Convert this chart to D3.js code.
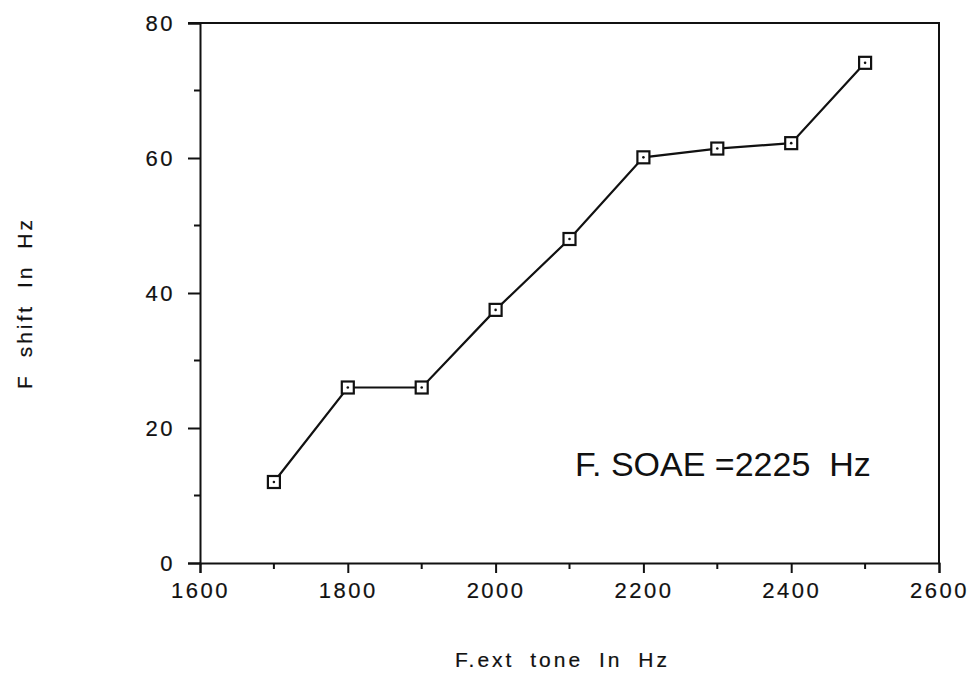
<!DOCTYPE html>
<html>
<head>
<meta charset="utf-8">
<script src="https://cdn.jsdelivr.net/npm/d3@7"></script>
<style>
  body { margin: 0; background: #fff; }
  svg text { font-family: "Liberation Sans", Arial, sans-serif; fill: #111; stroke: #111; stroke-width: 0.2px; }
</style>
</head>
<body>
<svg id="chart" width="977" height="673"></svg>
<script>
// data
const toneFreq = [1700, 1800, 1900, 2000, 2100, 2200, 2300, 2400, 2500];
const shiftHz  = [12, 26, 26, 37.5, 48, 60.1, 61.4, 62.2, 74.1];
const xTicks = [1600, 1800, 2000, 2200, 2400, 2600];
const xMinor = [1700, 1900, 2100, 2300, 2500];
const yTicks = [0, 20, 40, 60, 80];
const yMinor = [10, 30, 50, 70];

const margin = {left: 200, top: 23, right: 38, bottom: 110};
const width = 977 - margin.left - margin.right;
const height = 673 - margin.top - margin.bottom;

const svg = d3.select("#chart");
const g = svg.append("g")
    .attr("transform", `translate(${margin.left}, ${margin.top})`);

const x = d3.scaleLinear().domain([1600, 2600]).range([0, width]);
const y = d3.scaleLinear().domain([0, 80]).range([height, 0]);

// frame: top and right border
g.append("path")
  .attr("d", `M${-12},0 H${width} V${height}`)
  .attr("fill", "none").attr("stroke", "#111").attr("stroke-width", 2);

// x axis
const xAxis = g.append("g")
  .attr("transform", `translate(0, ${height})`)
  .call(d3.axisBottom(x).tickValues(xTicks).tickSize(10).tickPadding(9)
    .tickFormat(d3.format("d")));
xAxis.append("g").selectAll("line")
  .data(xMinor).enter().append("line")
  .attr("x1", d => x(d)).attr("x2", d => x(d))
  .attr("y1", 0).attr("y2", 6)
  .attr("stroke", "#111").attr("stroke-width", 2);

// y axis
const yAxis = g.append("g")
  .call(d3.axisLeft(y).tickValues(yTicks).tickSize(12).tickPadding(13)
    .tickFormat(d3.format("d")));
yAxis.append("g").selectAll("line")
  .data(yMinor).enter().append("line")
  .attr("x1", 0).attr("x2", -6)
  .attr("y1", d => y(d)).attr("y2", d => y(d))
  .attr("stroke", "#111").attr("stroke-width", 2);

[xAxis, yAxis].forEach(a => {
  a.select(".domain").attr("stroke", "#111").attr("stroke-width", 2);
  a.selectAll(".tick line").attr("stroke", "#111").attr("stroke-width", 2);
  a.selectAll(".tick text")
    .attr("fill", "#111")
    .style("font-size", "22px")
    .style("letter-spacing", "2.5px")
    .style("font-family", "'Liberation Sans', Arial, sans-serif");
});
yAxis.selectAll(".tick text").attr("dy", "0.36em");

// the series
const pts = toneFreq.map((f, i) => ({f: f, s: shiftHz[i]}));
g.append("path")
  .datum(pts)
  .attr("fill", "none")
  .attr("stroke", "#111")
  .attr("stroke-width", 2.2)
  .attr("d", d3.line().x(d => x(d.f)).y(d => y(d.s)));

const mk = g.selectAll(".mark").data(pts).enter().append("g")
  .attr("class", "mark")
  .attr("transform", d => `translate(${x(d.f)}, ${y(d.s)})`);
mk.append("rect")
  .attr("x", -6).attr("y", -6).attr("width", 12).attr("height", 12)
  .attr("fill", "#fff").attr("stroke", "#111").attr("stroke-width", 2.2);
mk.append("circle").attr("r", 1.3).attr("fill", "#111");

// annotation
g.append("text")
  .attr("x", 375).attr("y", y(12.9))
  .style("font-size", "34px")
  .style("stroke-width", "0px")
  .attr("xml:space", "preserve")
  .text("F. SOAE =2225  Hz");

// axis titles
svg.append("text")
  .attr("x", margin.left + width / 2 - 7).attr("y", 667)
  .attr("text-anchor", "middle")
  .style("font-size", "21px")
  .style("letter-spacing", "3px")
  .style("word-spacing", "7px")
  .text("F.ext tone In Hz");

svg.append("text")
  .attr("transform", "translate(32, 303) rotate(-90)")
  .attr("text-anchor", "middle")
  .style("font-size", "21px")
  .style("letter-spacing", "3px")
  .style("word-spacing", "7px")
  .text("F shift In Hz");
</script>
</body>
</html>
